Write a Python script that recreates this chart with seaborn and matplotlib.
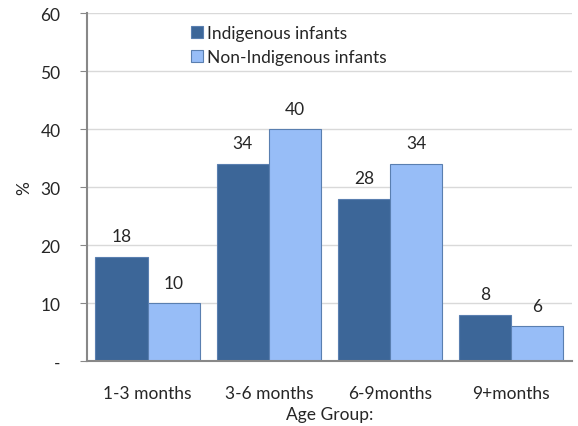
import numpy as np
import pandas as pd
import matplotlib.pyplot as plt
import seaborn as sns

# Data
age_groups = ['1-3 months', '3-6 months', '6-9months', '9+months']
indigenous = [18, 34, 28, 8]
non_indigenous = [10, 40, 34, 6]
series_names = ['Indigenous infants', 'Non-Indigenous infants']
colors = ['#3c6698', '#97bdf7']

df = pd.DataFrame({
    'Age Group': age_groups * 2,
    'Value': indigenous + non_indigenous,
    'Series': [series_names[0]] * 4 + [series_names[1]] * 4,
})

sns.set_style('white')
plt.rcParams['font.family'] = ['Lato', 'DejaVu Sans']
fs = 12.5

fig = plt.figure(figsize=(5.78, 4.27), dpi=100)
ax = fig.add_axes([0.1505, 0.152, 0.839, 0.815])

sns.barplot(data=df, x='Age Group', y='Value', hue='Series', palette=colors,
            width=0.86, gap=0, ax=ax, edgecolor='#5a7fb0', linewidth=0.8,
            saturation=1)

# value labels
for cont in ax.containers:
    ax.bar_label(cont, fmt='%d', padding=9, fontsize=fs)

ax.set_ylim(0, 60)
ax.set_xlim(-0.5, 3.5)
ax.set_yticks(range(0, 61, 10))
ax.set_yticklabels(['-'] + [str(v) for v in range(10, 61, 10)], fontsize=fs)
ax.yaxis.grid(True, color='#d9d9d9', linewidth=1)
ax.set_axisbelow(True)

ax.set_xticks(range(4))
ax.set_xticklabels(age_groups, fontsize=fs)
ax.set_xticks(np.arange(-0.5, 4, 1), minor=True)
ax.tick_params(axis='x', which='major', length=0, pad=17)
ax.tick_params(axis='x', which='minor', length=5, color='#888888', direction='out')
ax.tick_params(axis='y', length=5, color='#888888', direction='out', pad=14, left=True)

for s in ['top', 'right']:
    ax.spines[s].set_visible(False)
for s in ['left', 'bottom']:
    ax.spines[s].set_color('#888888')
    ax.spines[s].set_linewidth(1.5)

ax.set_xlabel('Age Group:', fontsize=fs, labelpad=4)
ax.set_ylabel('%', fontsize=fs, labelpad=6)

ax.legend(loc='upper left', bbox_to_anchor=(0.2, 0.985), frameon=False,
          fontsize=fs, handlelength=0.7, handleheight=0.7, handletextpad=0.2,
          labelspacing=0.45, borderaxespad=0)

fig.savefig('out.png', dpi=100)
